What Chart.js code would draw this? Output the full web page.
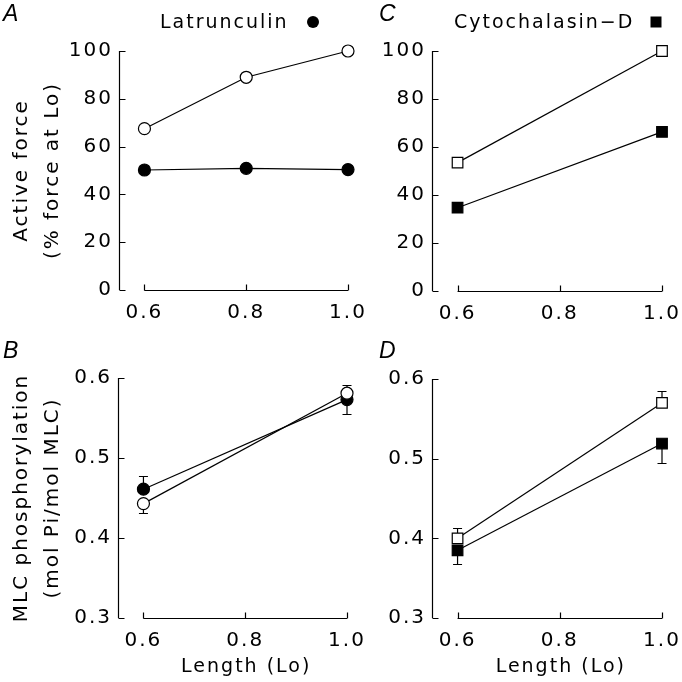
<!DOCTYPE html>
<html>
<head>
<meta charset="utf-8">
<script src="https://cdn.jsdelivr.net/npm/chart.js@4/dist/chart.umd.min.js"></script>
<style>
  body { margin: 0; background: #fff; }
  #wrap { position: relative; width: 682px; height: 682px; }
  canvas { position: absolute; left: 0; top: 0; }
</style>
</head>
<body>
<div id="wrap">
  <canvas id="panelA" width="682" height="682"></canvas>
  <canvas id="panelB" width="682" height="682"></canvas>
  <canvas id="panelC" width="682" height="682"></canvas>
  <canvas id="panelD" width="682" height="682"></canvas>
</div>
<script>
// Tick labels
const lengthTicks = [0.6, 0.8, 1.0];
const forceTicks = [0, 20, 40, 60, 80, 100];
const mlcTicks = [0.3, 0.4, 0.5, 0.6];

// Lengths sampled in each experiment
const lengthLat = [0.6, 0.8, 1.0];
const lengthCyto = [0.6, 1.0];
const lengthMlc = [0.6, 1.0];

// A: active force, latrunculin
const forceLatControl = [67.5, 89, 100];
const forceLatDrug = [50.2, 50.9, 50.4];
const forceLatDrugErr = [0, 1.5, 0];

// C: active force, cytochalasin-D
const forceCytoControl = [53.5, 100];
const forceCytoDrug = [34.7, 66.3];

// B: MLC phosphorylation, latrunculin
const mlcLatControl = [0.443, 0.581];
const mlcLatControlErrUp = [0, 0.010];
const mlcLatControlErrDown = [0.012, 0];
const mlcLatDrug = [0.461, 0.573];
const mlcLatDrugErrUp = [0.016, 0];
const mlcLatDrugErrDown = [0, 0.018];

// D: MLC phosphorylation, cytochalasin-D
const mlcCytoControl = [0.400, 0.570];
const mlcCytoControlErrUp = [0.013, 0.015];
const mlcCytoDrug = [0.385, 0.519];
const mlcCytoDrugErrDown = [0.017, 0.024];

const FONT = 'DejaVu Sans';
const INK = '#000';

function points(xs, ys) {
  return xs.map((x, i) => ({ x: x, y: ys[i] }));
}

function series(xs, ys, open, style, extra) {
  return Object.assign({
    data: points(xs, ys),
    showLine: true,
    borderColor: INK,
    borderWidth: 1.2,
    pointStyle: style,
    pointRadius: style === 'rect' ? 7.5 : 6,
    pointBackgroundColor: open ? '#fff' : INK,
    pointBorderColor: INK,
    pointBorderWidth: 1.2,
    clip: false
  }, extra || {});
}

// wider letters like the original typeface
const spacingPlugin = {
  id: 'spacing',
  beforeDraw(chart) {
    chart.ctx.letterSpacing = '2px';
  }
};

// detached axes with inward ticks
const axesPlugin = {
  id: 'axes',
  beforeDatasetsDraw(chart) {
    const { ctx, chartArea, scales: { x, y } } = chart;
    const xt = x.ticks.map(t => t.value);
    const yt = y.ticks.map(t => t.value);
    const left = Math.round(chartArea.left) + 0.5;
    const base = Math.round(y.getPixelForValue(y.min)) + 0.5;
    ctx.save();
    ctx.strokeStyle = INK;
    ctx.lineWidth = 1.2;
    ctx.beginPath();
    ctx.moveTo(left, y.getPixelForValue(y.max));
    ctx.lineTo(left, y.getPixelForValue(y.min));
    yt.forEach(v => {
      const py = Math.round(y.getPixelForValue(v)) + 0.5;
      ctx.moveTo(left, py);
      ctx.lineTo(left + 6, py);
    });
    ctx.moveTo(x.getPixelForValue(xt[0]), base);
    ctx.lineTo(x.getPixelForValue(xt[xt.length - 1]), base);
    xt.forEach(v => {
      const px = Math.round(x.getPixelForValue(v)) + 0.5;
      ctx.moveTo(px, base);
      ctx.lineTo(px, base - 6);
    });
    ctx.stroke();
    ctx.restore();
  }
};

const errorBarPlugin = {
  id: 'errorBars',
  beforeDatasetsDraw(chart) {
    const { ctx, scales: { x, y } } = chart;
    ctx.save();
    ctx.strokeStyle = INK;
    ctx.lineWidth = 1.2;
    chart.data.datasets.forEach(ds => {
      ds.data.forEach((p, j) => {
        const px = x.getPixelForValue(p.x);
        [[ds.errUp, 1], [ds.errDown, -1]].forEach(([errs, dir]) => {
          if (!errs || !errs[j]) return;
          const y0 = y.getPixelForValue(p.y);
          const y1 = Math.round(y.getPixelForValue(p.y + dir * errs[j])) + 0.5;
          ctx.beginPath();
          ctx.moveTo(px, y0);
          ctx.lineTo(px, y1);
          ctx.moveTo(px - 4.5, y1);
          ctx.lineTo(px + 4.5, y1);
          ctx.stroke();
        });
      });
    });
    ctx.restore();
  }
};

// panel letter, drug caption and x title centred under the length ticks
const labelPlugin = {
  id: 'panelLabel',
  afterDraw(chart, args, opts) {
    const { ctx, scales: { x } } = chart;
    ctx.save();
    ctx.fillStyle = INK;
    ctx.letterSpacing = '0px';
    ctx.textBaseline = 'alphabetic';
    ctx.textAlign = 'left';
    ctx.font = 'italic 23px "Liberation Sans"';
    ctx.fillText(opts.letter, opts.letterX, opts.letterY);
    ctx.letterSpacing = '2px';
    ctx.font = '19px "' + FONT + '"';
    if (opts.caption) {
      ctx.fillText(opts.caption, opts.captionX, opts.captionY);
      ctx.beginPath();
      if (opts.marker === 'circle') {
        ctx.arc(opts.markerX, opts.markerY, 6, 0, Math.PI * 2);
      } else {
        ctx.rect(opts.markerX - 5.5, opts.markerY - 5.5, 11, 11);
      }
      ctx.fill();
    }
    if (opts.xTitle) {
      const mid = (x.getPixelForValue(lengthTicks[0]) + x.getPixelForValue(lengthTicks[lengthTicks.length - 1])) / 2;
      ctx.textAlign = 'center';
      ctx.textBaseline = 'middle';
      ctx.fillText(opts.xTitle, mid + 1, opts.xTitleY);
    }
    ctx.restore();
  }
};

function makePanel(id, p) {
  const tickFont = { family: FONT, size: 20 };
  new Chart(document.getElementById(id), {
    type: 'scatter',
    data: { datasets: p.datasets },
    plugins: [spacingPlugin, axesPlugin, errorBarPlugin, labelPlugin],
    options: {
      responsive: false,
      animation: false,
      layout: { padding: p.padding },
      plugins: {
        legend: { display: false },
        tooltip: { enabled: false },
        panelLabel: p.label
      },
      scales: {
        x: {
          type: 'linear',
          min: 0.55,
          max: 1.0,
          grid: { display: false, drawTicks: false },
          border: { display: false },
          afterBuildTicks: (scale) => { scale.ticks = lengthTicks.map(v => ({ value: v })); },
          afterFit: (scale) => {
            scale.height = p.xHeight;
            scale.paddingLeft = 0;
            scale.paddingRight = 0;
          },
          ticks: {
            font: tickFont,
            color: INK,
            padding: 11,
            maxRotation: 0,
            autoSkip: false,
            callback: (v) => v.toFixed(1)
          }
        },
        y: {
          min: p.yTicks[0],
          max: p.yTicks[p.yTicks.length - 1],
          grid: { display: false, drawTicks: false },
          border: { display: false },
          afterBuildTicks: (scale) => { scale.ticks = p.yTicks.map(v => ({ value: v })); },
          afterFit: (scale) => {
            scale.width = p.yWidth;
            scale.paddingTop = 0;
            scale.paddingBottom = 0;
          },
          ticks: {
            font: tickFont,
            color: INK,
            padding: 6,
            callback: p.yFormat
          },
          title: {
            display: !!p.yTitle,
            text: p.yTitle || '',
            color: INK,
            font: { family: FONT, size: 20, lineHeight: 1.55 },
            padding: { top: 6, bottom: 0 }
          }
        }
      }
    }
  });
}

const wholeNumber = (v) => String(v);
const oneDecimal = (v) => v.toFixed(1);

makePanel('panelA', {
  padding: { left: 0, top: 51, right: 334, bottom: 352 },
  yWidth: 119,
  xHeight: 40,
  yTicks: forceTicks,
  yFormat: wholeNumber,
  yTitle: ['Active force', '(% force at Lo)'],
  label: { letter: 'A', letterX: 3, letterY: 21, caption: 'Latrunculin', captionX: 160, captionY: 28, marker: 'circle', markerX: 313, markerY: 22 },
  datasets: [
    series(lengthLat, forceLatControl, true, 'circle'),
    series(lengthLat, forceLatDrug, false, 'circle', { errUp: forceLatDrugErr, errDown: forceLatDrugErr })
  ]
});

makePanel('panelC', {
  padding: { left: 341, top: 51, right: 20, bottom: 351 },
  yWidth: 91,
  xHeight: 40,
  yTicks: forceTicks,
  yFormat: wholeNumber,
  label: { letter: 'C', letterX: 379, letterY: 21, caption: 'Cytochalasin\u2212D', captionX: 454, captionY: 28, marker: 'rect', markerX: 656, markerY: 22 },
  datasets: [
    series(lengthCyto, forceCytoControl, true, 'rect'),
    series(lengthCyto, forceCytoDrug, false, 'rect')
  ]
});

makePanel('panelB', {
  padding: { left: 0, top: 378, right: 335, bottom: 0 },
  yWidth: 118,
  xHeight: 64,
  yTicks: mlcTicks,
  yFormat: oneDecimal,
  yTitle: ['MLC phosphorylation', '(mol Pi/mol MLC)'],
  label: { letter: 'B', letterX: 3, letterY: 358, xTitle: 'Length (Lo)', xTitleY: 667 },
  datasets: [
    series(lengthMlc, mlcLatControl, true, 'circle', { errUp: mlcLatControlErrUp, errDown: mlcLatControlErrDown }),
    series(lengthMlc, mlcLatDrug, false, 'circle', { errUp: mlcLatDrugErrUp, errDown: mlcLatDrugErrDown })
  ]
});

makePanel('panelD', {
  padding: { left: 341, top: 379, right: 20, bottom: 0 },
  yWidth: 91,
  xHeight: 64,
  yTicks: mlcTicks,
  yFormat: oneDecimal,
  label: { letter: 'D', letterX: 379, letterY: 358, xTitle: 'Length (Lo)', xTitleY: 667 },
  datasets: [
    series(lengthMlc, mlcCytoControl, true, 'rect', { errUp: mlcCytoControlErrUp }),
    series(lengthMlc, mlcCytoDrug, false, 'rect', { errDown: mlcCytoDrugErrDown })
  ]
});
</script>
</body>
</html>
